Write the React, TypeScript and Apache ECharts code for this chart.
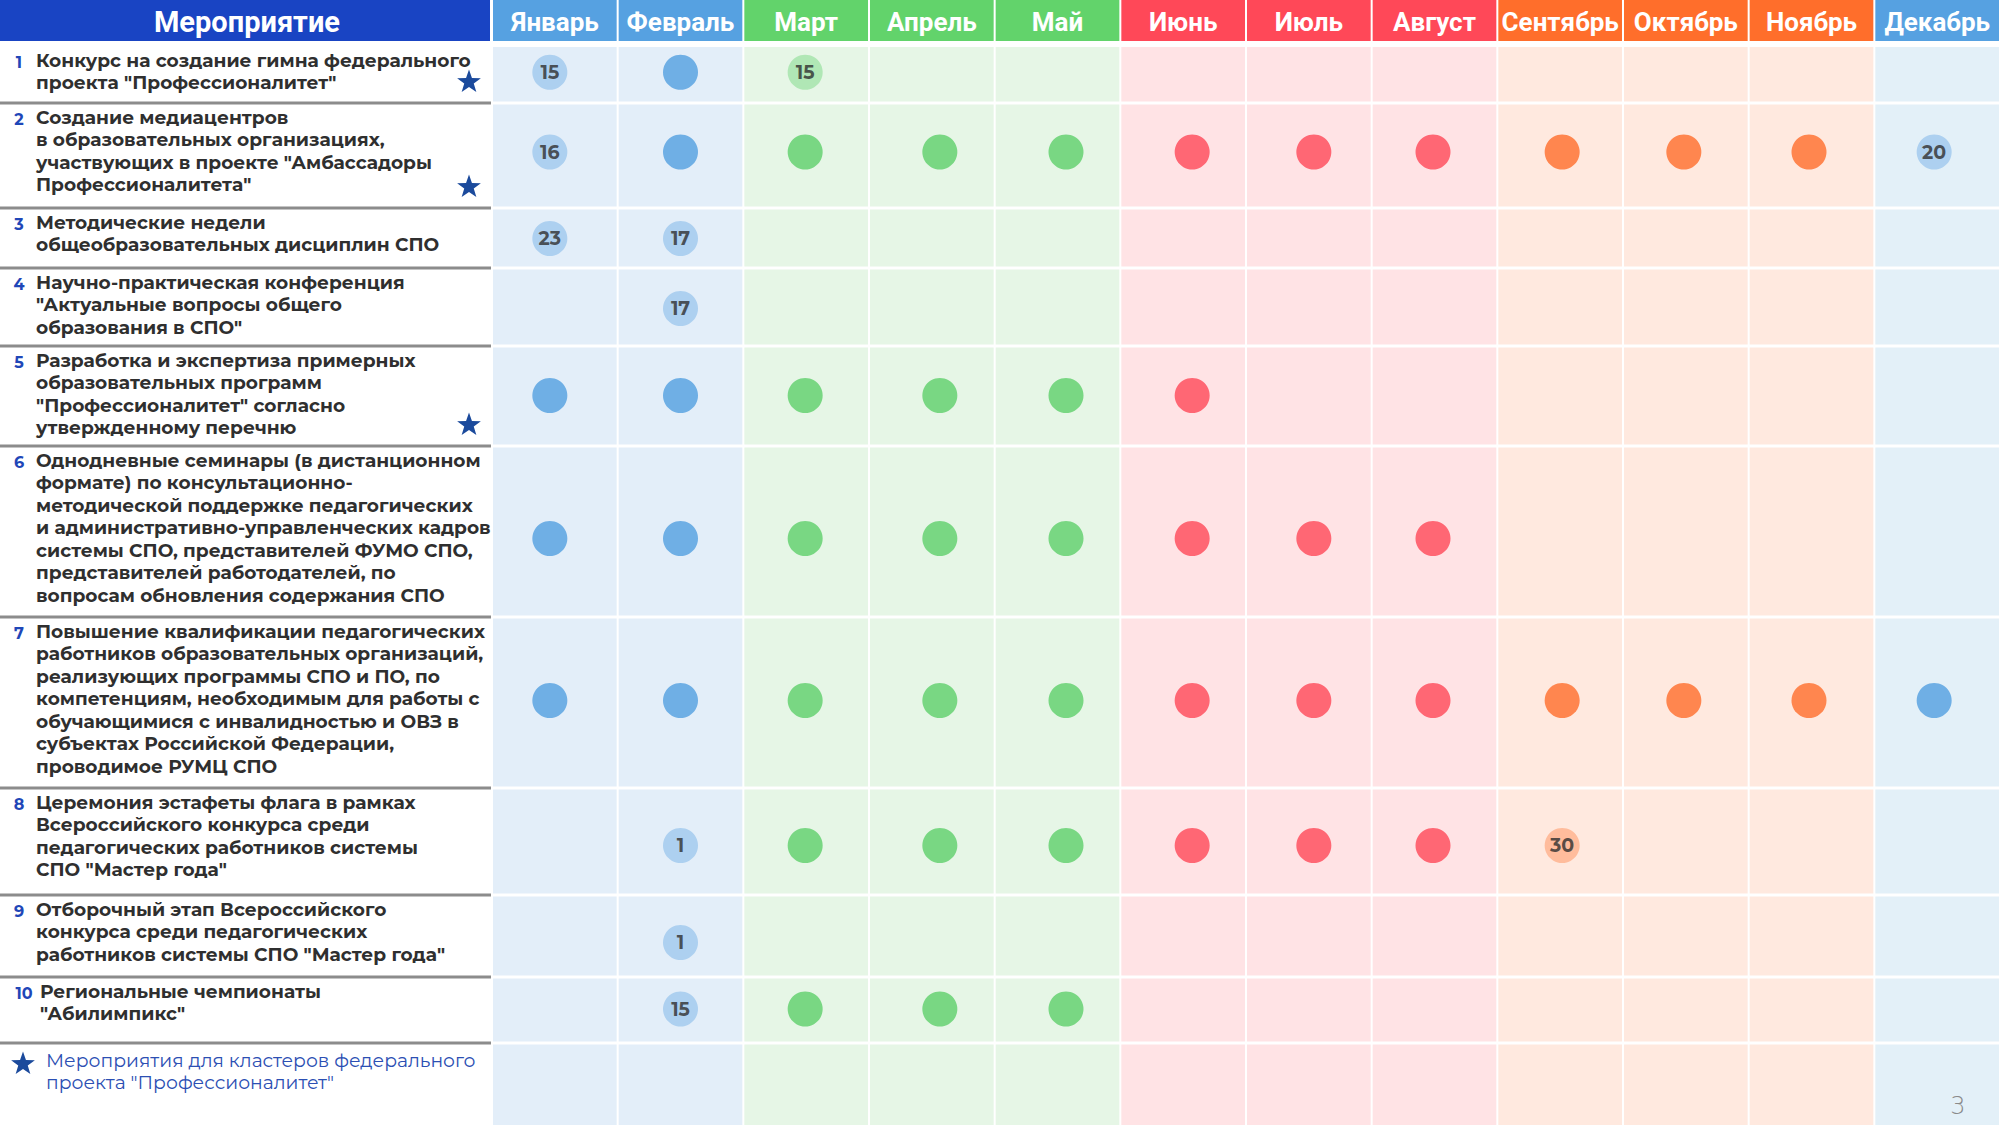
import React, { useEffect, useRef } from "react";
import * as echarts from "echarts";

// ---------- DATA ----------
const months = ["Январь", "Февраль", "Март", "Апрель", "Май", "Июнь", "Июль", "Август", "Сентябрь", "Октябрь", "Ноябрь", "Декабрь"];
// season group of each month (colour family)
const monthGroup = [0, 0, 1, 1, 1, 2, 2, 2, 3, 3, 3, 4];
const headerTitle = "Мероприятие";

const eventNumbers = ["1", "2", "3", "4", "5", "6", "7", "8", "9", "10"];
const events = [
  "Конкурс на создание гимна федерального\nпроекта \"Профессионалитет\"",
  "Создание медиацентров\nв образовательных организациях,\nучаствующих в проекте \"Амбассадоры\nПрофессионалитета\"",
  "Методические недели\nобщеобразовательных дисциплин СПО",
  "Научно-практическая конференция\n\"Актуальные вопросы общего\nобразования в СПО\"",
  "Разработка и экспертиза примерных\nобразовательных программ\n\"Профессионалитет\" согласно\nутвержденному перечню",
  "Однодневные семинары (в дистанционном\nформате) по консультационно-\nметодической поддержке педагогических\nи административно-управленческих кадров\nсистемы СПО, представителей ФУМО СПО,\nпредставителей работодателей, по\nвопросам обновления содержания СПО",
  "Повышение квалификации педагогических\nработников образовательных организаций,\nреализующих программы СПО и ПО, по\nкомпетенциям, необходимым для работы с\nобучающимися с инвалидностью и ОВЗ в\nсубъектах Российской Федерации,\nпроводимое РУМЦ СПО",
  "Церемония эстафеты флага в рамках\nВсероссийского конкурса среди\nпедагогических работников системы\nСПО \"Мастер года\"",
  "Отборочный этап Всероссийского\nконкурса среди педагогических\nработников системы СПО \"Мастер года\"",
  "Региональные чемпионаты\n\"Абилимпикс\"",
];
// events for the clusters of the federal project (marked with a star)
const clusterEvent = [true, true, false, false, true, false, false, false, false, false];

// schedule: null = nothing, 0 = event during the month, n > 0 = date (day of month)
const _ = null;
const schedule: (number | null)[][] = [
  [15, 0, 15, _, _, _, _, _, _, _, _, _],
  [16, 0, 0, 0, 0, 0, 0, 0, 0, 0, 0, 20],
  [23, 17, _, _, _, _, _, _, _, _, _, _],
  [_, 17, _, _, _, _, _, _, _, _, _, _],
  [0, 0, 0, 0, 0, 0, _, _, _, _, _, _],
  [0, 0, 0, 0, 0, 0, 0, 0, _, _, _, _],
  [0, 0, 0, 0, 0, 0, 0, 0, 0, 0, 0, 0],
  [_, 1, 0, 0, 0, 0, 0, 0, 30, _, _, _],
  [_, 1, _, _, _, _, _, _, _, _, _, _],
  [_, 15, 0, 0, 0, _, _, _, _, _, _, _],
];
const legendText = "Мероприятия для кластеров федерального\nпроекта \"Профессионалитет\"";
const pageNumber = "3";

// ---------- LAYOUT / STYLE ----------
const W = 2000;
const H = 1125;
const LEFT_W = 492;
const HEADER_H = 41;
// row separators in px (header end, rows 1..10, legend row, bottom)
const rowBounds = [42, 103, 208, 268, 346, 446, 617, 788, 895, 977, 1043, 1125];
// small hand-placement nudges of the dots as in the original slide (px)
const rowDotNudge = [0, -1.5, 2.5, 3.5, 1.5, 9, 0, 6, 8.5, 1];
const monthDotNudge = [-5, 0, -1, 8, 8.5, 9, 5, -1.5, 2, -2, -2.5, -3];

const headerColors = ["#56a1e1", "#62d36b", "#ff4858", "#ff6e2b", "#56a1e1"];
const cellColors = ["#e3eef9", "#e6f6e6", "#ffe3e5", "#ffe9df", "#e3f0f8"];
const dotColors = ["#519fe0", "#5ecf6a", "#ff4757", "#ff6d2b", "#519fe0"];
const lightDotColors = ["#9fc8ee", "#a3e4a9", "#ffb4b9", "#ffb08b", "#9fc8ee"];
const TEXT_FONT = "'Montserrat', 'Open Sans', sans-serif";
const HEAD_FONT = "Roboto, 'Open Sans', sans-serif";

function starPoints(cx: number, cy: number, R: number): number[][] {
  const pts: number[][] = [];
  const r = R * 0.4;
  for (let i = 0; i < 10; i++) {
    const a = -Math.PI / 2 + (i * Math.PI) / 5;
    const rad = i % 2 === 0 ? R : r;
    pts.push([cx + rad * Math.cos(a), cy + rad * Math.sin(a)]);
  }
  return pts;
}

export default function App() {
  const ref = useRef<HTMLDivElement>(null);

  useEffect(() => {
    document.body.style.margin = "0";
    const chart = echarts.init(ref.current!, null, { renderer: "svg" });

    // cells: [month, top, bottom, group]
    const cellData: number[][] = [];
    for (let r = 0; r < rowBounds.length - 1; r++) {
      const top = rowBounds[r] + (r === 0 ? 5 : 1.5);
      const bottom = r === rowBounds.length - 2 ? H : rowBounds[r + 1] - 1.5;
      months.forEach((_m, i) => cellData.push([i, top, bottom, monthGroup[i]]));
    }

    // dots: [month, yCenter, date, group]
    const dotData: any[] = [];
    schedule.forEach((row, r) => {
      const top = rowBounds[r] + (r === 0 ? 5 : 1.5);
      const bottom = rowBounds[r + 1] - 1.5;
      const yc = (top + bottom) / 2 - 2 + rowDotNudge[r];
      row.forEach((v, m) => {
        if (v !== null)
          dotData.push({
            value: [m, yc, v, monthGroup[m]],
            symbolOffset: [monthDotNudge[m], 0],
          });
      });
    });

    const headerData = months.map((_m, i) => [i, monthGroup[i]]);

    const graphics: any[] = [];
    // Left header block
    graphics.push({
      type: "rect",
      shape: { x: 0, y: 0, width: LEFT_W - 2, height: HEADER_H },
      style: { fill: "#1944c3" },
    });
    graphics.push({
      type: "text",
      style: {
        text: headerTitle,
        x: (LEFT_W - 2) / 2 + 2,
        y: HEADER_H / 2 + 1,
        align: "center",
        verticalAlign: "middle",
        fill: "#ffffff",
        font: `700 29px ${HEAD_FONT}`,
      },
    });
    // Rows in the left column
    events.forEach((txt, r) => {
      const top = r === 0 ? 49 : rowBounds[r] + 3;
      const textX = r === 9 ? 40 : 36;
      graphics.push({
        type: "text",
        style: {
          text: eventNumbers[r],
          x: r === 9 ? 24 : 19,
          y: top + 2,
          align: "center",
          verticalAlign: "top",
          fill: "#1f47b8",
          font: `700 16px ${TEXT_FONT}`,
          lineHeight: 22.5,
        },
      });
      graphics.push({
        type: "text",
        style: {
          text: txt,
          x: textX,
          y: top,
          align: "left",
          verticalAlign: "top",
          fill: "#2f2f2f",
          font: `700 18.6px ${TEXT_FONT}`,
          lineHeight: 22.5,
        },
      });
      if (clusterEvent[r]) {
        graphics.push({
          type: "polygon",
          shape: { points: starPoints(469, rowBounds[r + 1] - 21, 12.5) },
          style: { fill: "#1b4a9c" },
        });
      }
      graphics.push({
        type: "rect",
        shape: { x: 0, y: rowBounds[r + 1] - 1.5, width: LEFT_W - 1, height: 3 },
        style: { fill: "#8c8c8c" },
      });
    });
    // Legend
    graphics.push({
      type: "polygon",
      shape: { points: starPoints(23, 1064, 12.5) },
      style: { fill: "#1b4a9c" },
    });
    graphics.push({
      type: "text",
      style: {
        text: legendText,
        x: 46,
        y: 1049,
        align: "left",
        verticalAlign: "top",
        fill: "#2c4fb3",
        font: `400 18.8px ${TEXT_FONT}`,
        lineHeight: 22,
      },
    });
    graphics.push({
      type: "text",
      z: 100,
      style: {
        text: pageNumber,
        x: 1958,
        y: 1106,
        align: "center",
        verticalAlign: "middle",
        fill: "#8a8a8a",
        font: `300 24px 'DejaVu Sans', sans-serif`,
      },
    });

    const option: any = {
      animation: false,
      backgroundColor: "#ffffff",
      grid: { left: LEFT_W, right: 0, top: 0, bottom: 0, containLabel: false },
      xAxis: { type: "category", data: months, show: false, boundaryGap: true },
      yAxis: { type: "value", inverse: true, min: 0, max: H, show: false },
      series: [
        {
          type: "custom",
          name: "cells",
          silent: true,
          z: 1,
          data: cellData,
          encode: { x: 0, y: [1, 2] },
          renderItem: (params: any, api: any) => {
            const m = api.value(0);
            const p0 = api.coord([m, api.value(1)]);
            const p1 = api.coord([m, api.value(2)]);
            const w = api.size([1, 0])[0];
            return {
              type: "rect",
              shape: { x: p0[0] - w / 2 + 1, y: p0[1], width: w - 2, height: p1[1] - p0[1] },
              style: { fill: cellColors[api.value(3)] },
            };
          },
        },
        {
          type: "custom",
          name: "header",
          silent: true,
          z: 2,
          data: headerData,
          encode: { x: 0 },
          renderItem: (params: any, api: any) => {
            const m = api.value(0);
            const p0 = api.coord([m, 0]);
            const p1 = api.coord([m, HEADER_H]);
            const w = api.size([1, 0])[0];
            return {
              type: "group",
              children: [
                {
                  type: "rect",
                  shape: { x: p0[0] - w / 2 + 1, y: p0[1], width: w - 2, height: p1[1] - p0[1] },
                  style: { fill: headerColors[api.value(1)] },
                },
                {
                  type: "text",
                  style: {
                    text: months[m],
                    x: p0[0],
                    y: (p0[1] + p1[1]) / 2 + 1,
                    align: "center",
                    verticalAlign: "middle",
                    fill: "#ffffff",
                    font: `700 26px ${HEAD_FONT}`,
                  },
                },
              ],
            };
          },
        },
        {
          type: "scatter",
          name: "events",
          z: 3,
          symbol: "circle",
          symbolSize: 35,
          data: dotData,
          encode: { x: 0, y: 1 },
          itemStyle: {
            color: (p: any) => (p.value[2] > 0 ? lightDotColors[p.value[3]] : dotColors[p.value[3]]),
          },
          label: {
            show: true,
            position: "inside",
            formatter: (p: any) => (p.value[2] > 0 ? String(p.value[2]) : ""),
            color: "#2d2d2d",
            fontFamily: TEXT_FONT,
            fontWeight: 700,
            fontSize: 19,
          },
        },
      ],
      graphic: graphics,
    };

    chart.setOption(option);
    return () => chart.dispose();
  }, []);

  return <div ref={ref} style={{ width: W, height: H }} />;
}
